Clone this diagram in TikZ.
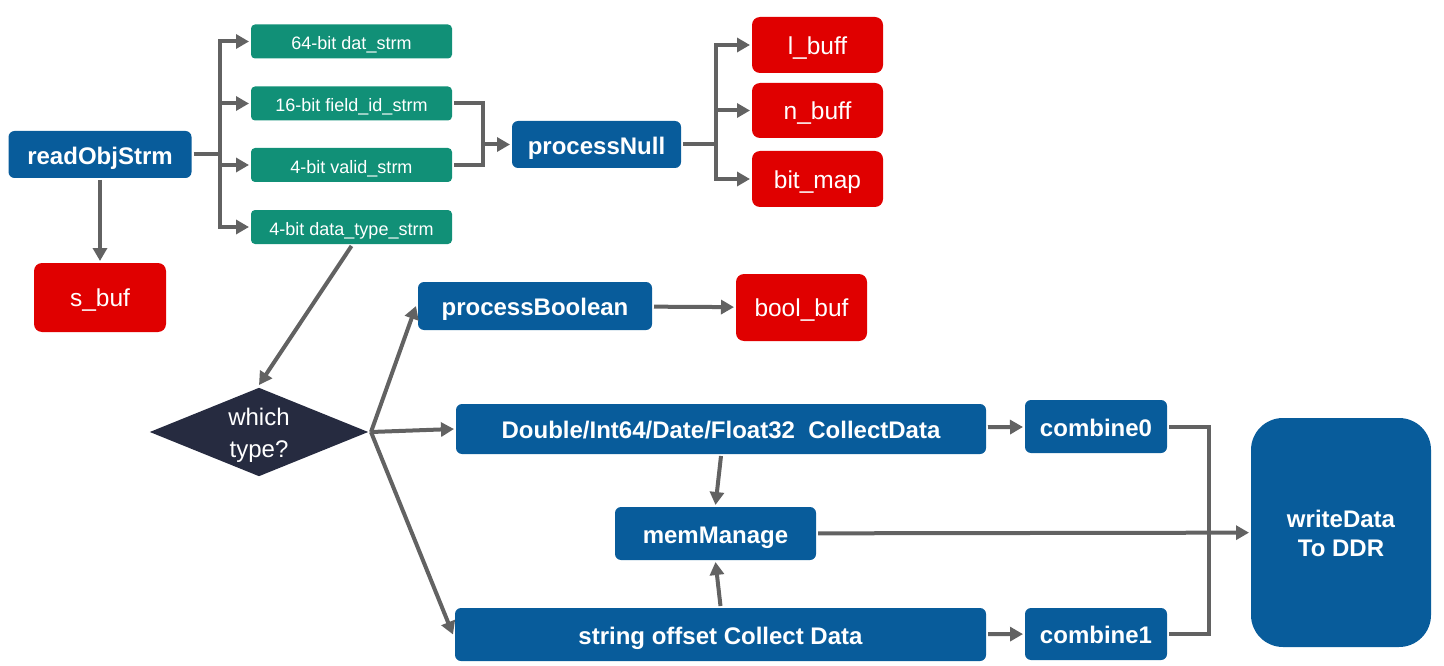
\documentclass[tikz,border=0pt]{standalone}
\usepackage{fontspec}
\setmainfont{Liberation Sans}
\usepackage{xcolor}
\usetikzlibrary{arrows.meta,positioning,shapes.geometric}

\definecolor{pblue}{RGB}{8,92,155}
\definecolor{sgreen}{RGB}{17,144,119}
\definecolor{bred}{RGB}{224,0,0}
\definecolor{dnavy}{RGB}{38,43,64}
\definecolor{lgray}{RGB}{98,98,98}

\begin{document}
\begin{tikzpicture}[->,>={Triangle[length=13pt,width=14pt]},x=1pt,y=-1pt,line width=4pt,color=lgray,
  proc/.style={fill=pblue,text=white,rounded corners=6pt,inner sep=0pt,text height=19.5pt,text depth=0pt,font=\fontsize{24}{28}\selectfont\bfseries},
  strm/.style={fill=sgreen,text=white,rounded corners=4pt,inner sep=0pt,minimum width=201pt,minimum height=34pt,text height=17pt,text depth=0pt,font=\fontsize{18}{22}\selectfont},
  buf/.style={fill=bred,text=white,rounded corners=8pt,inner sep=0pt,minimum width=131pt,text height=18.5pt,text depth=0pt,font=\fontsize{24.5}{28}\selectfont},
  choice/.style={diamond,fill=dnavy,text=white,aspect=2.44,inner sep=0pt,minimum width=220pt,minimum height=90pt,align=center,text height=50pt,text depth=0pt,font=\fontsize{24}{32}\selectfont}]

    \useasboundingbox (0,0) rectangle (1444,666);

    % The graph
    \node [proc,minimum width=183pt,minimum height=47pt,text height=21pt] at (100,154.5) (read) {readObjStrm};
    \node [buf,minimum width=132pt,minimum height=69pt] at (100,297.5) (sbuf) {s\_buf};
    \node [strm] at (351.5,41.5) (dat) {64-bit dat\_strm};
    \node [strm] at (351.5,103.5) (fid) {16-bit field\_id\_strm};
    \node [strm] at (351.5,165) (valid) {4-bit valid\_strm};
    \node [strm] at (351.5,227) (dtype) {4-bit data\_type\_strm};
    \node [proc,minimum width=169pt,minimum height=47pt] at (596.5,144.5) (null) {processNull};
    \node [buf,minimum height=56pt] at (817.5,45) (lbuff) {l\_buff};
    \node [buf,minimum height=55pt] at (817.5,110.5) (nbuff) {n\_buff};
    \node [buf,minimum height=56pt] at (817.5,179) (bitmap) {bit\_map};
    \node [choice] at (259,432) (which) {which\\type?};
    \node [proc,minimum width=234pt,minimum height=48pt] at (535,306) (bool) {processBoolean};
    \node [buf,minimum height=67pt] at (801.5,307.5) (boolbuf) {bool\_buf};
    \node [proc,minimum width=530pt,minimum height=50pt] at (721,429) (dbl) {Double/Int64/Date/Float32\ \ CollectData};
    \node [proc,minimum width=201pt,minimum height=53pt] at (715.5,533.5) (mem) {memManage};
    \node [proc,minimum width=531pt,minimum height=53pt] at (720.5,634.5) (str) {string offset Collect Data};
    \node [proc,minimum width=142pt,minimum height=53pt] at (1096,426.5) (comb0) {combine0};
    \node [proc,minimum width=142pt,minimum height=52pt] at (1096,634) (comb1) {combine1};
    \node [proc,rounded corners=32pt,minimum width=180pt,minimum height=229pt,align=center,text height=47pt,text depth=0pt,font=\fontsize{24}{29}\selectfont\bfseries] at (1341,532.5) (write) {writeData\\To DDR};

    \coordinate (fork1) at (220,154.5);
    \coordinate (join1) at (483,144.5);
    \coordinate (fork2) at (716,144.5);
    \coordinate (join2) at (1209,534);

    % Graph branches
    \draw[-] (read.east) -- (fork1);
    \draw (fork1) |- (dat.west);
    \draw (fork1) |- (fid.west);
    \draw (fork1) |- (valid.west);
    \draw (fork1) |- (dtype.west);

    \draw[-] (fid.east) -| (join1);
    \draw[-] (valid.east) -| (join1);
    \draw[-] (null.east) -- (fork2);
    \draw (fork2) |- (lbuff.west);
    \draw (fork2) |- (nbuff.west);
    \draw (fork2) |- (bitmap.west);

    \draw[-] (comb0.east) -| (join2);
    \draw[-] (comb1.east) -| (join2);

    \path[->]
    (read) edge (sbuf)
    (join1) edge (null.west)
    (bool) edge (boolbuf)
    (dtype.south) edge (which.north)
    (which.east) edge (bool.west)
    (which.east) edge (dbl.west)
    (which.east) edge (str.west)
    (dbl.south) edge (mem.north)
    (str.north) edge (mem.south)
    (dbl) edge (comb0)
    (str) edge (comb1)
    (mem) edge (write);
\end{tikzpicture}
\end{document}
